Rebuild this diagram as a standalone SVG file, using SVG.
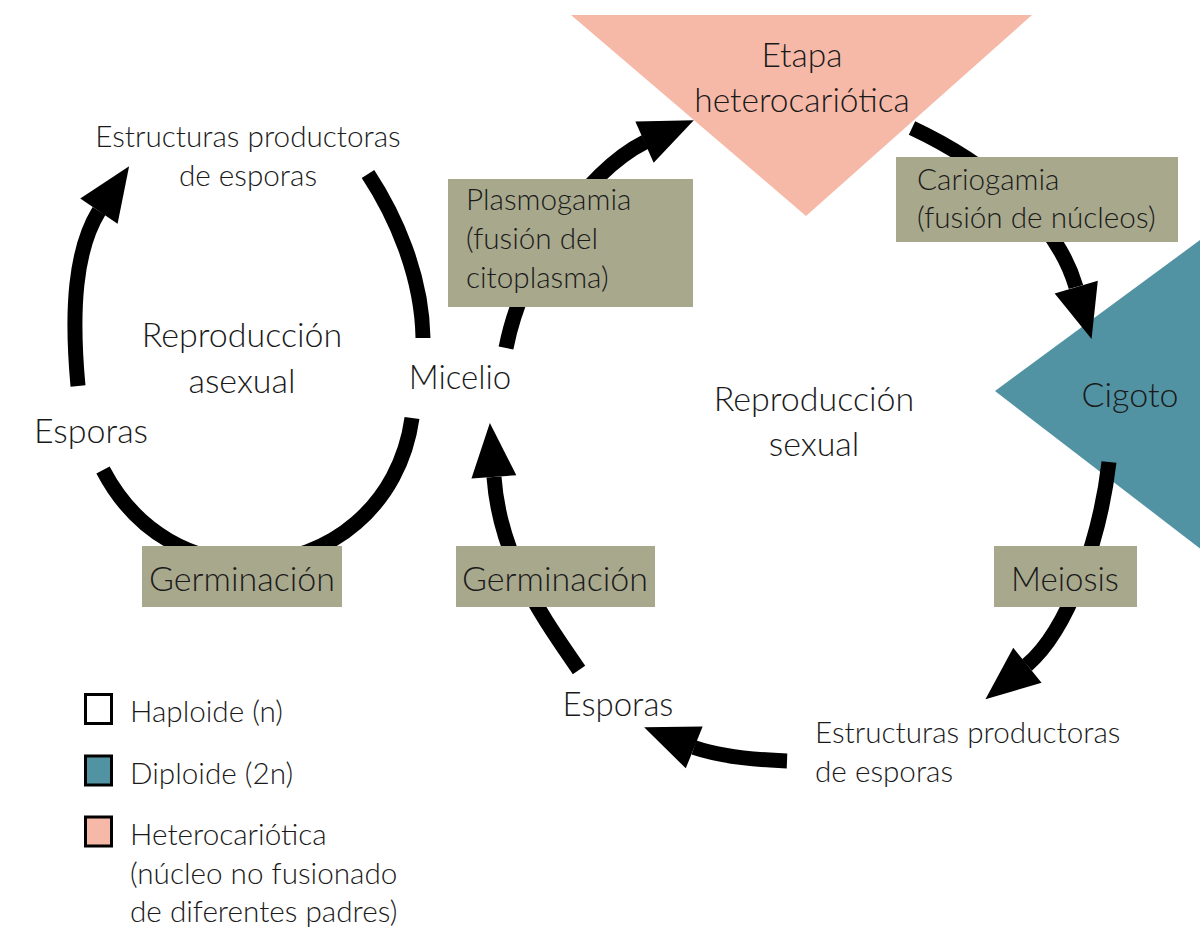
<svg xmlns="http://www.w3.org/2000/svg" xmlns:xlink="http://www.w3.org/1999/xlink" width="1200" height="931" viewBox="0 0 1200 931">
<defs>
<style>
.t{font-family:Lato,"Open Sans","Liberation Sans",sans-serif;font-weight:300;fill:#1a1a1a}
.s28{font-size:29.7px}
.s32{font-size:34px}
.s33{font-size:33px}
.m{text-anchor:middle}
.box{fill:#A8A88D}
.arc{fill:none;stroke:#000;stroke-width:15;stroke-linecap:butt}
.lg{stroke:#000;stroke-width:3}
</style>
<path id="ah" d="M2,0 L-52,-22.5 L-52,22.5 Z" fill="#000"/>
</defs>
<rect width="1200" height="931" fill="#fff"/>

<g id="etapa-heterocariotica">
<polygon points="571,15 1032,15 806,216" fill="#F6B9A8"/>
</g>
<g id="cigoto">
<polygon points="995,391 1215,229 1215,560" fill="#5293A3"/>
</g>

<g id="connectors">
<path class="arc" d="M78,386 C71,310 75,250 99,211"/>
<use xlink:href="#ah" href="#ah" transform="translate(128,168) rotate(-56)"/>
<path class="arc" d="M368,174 C395,215 422,275 423,338"/>
<path class="arc" d="M412,418 C400,505 330,562 250,562 C195,562 137,535 103,470"/>
<path class="arc" d="M506,348 C522,265 585,172 645,142"/>
<use xlink:href="#ah" href="#ah" transform="translate(692,121) rotate(-24)"/>
<path class="arc" d="M912,128 C980,160 1055,215 1076,287"/>
<use xlink:href="#ah" href="#ah" transform="translate(1091,337) rotate(73.5)"/>
<path class="arc" d="M1109,462 C1100,540 1068,630 1027,665"/>
<use xlink:href="#ah" href="#ah" transform="translate(987,698) rotate(141)"/>
<path class="arc" d="M787,761 C760,760 722,757 694,747.5"/>
<use xlink:href="#ah" href="#ah" transform="translate(646,728) rotate(202)"/>
<path class="arc" d="M579,670 C545,620 500,560 494,477"/>
<use xlink:href="#ah" href="#ah" transform="translate(490,425) rotate(-94.3)"/>
</g>

<g id="etapa-label">
<text class="t m" x="802" y="67" font-size="33.5">Etapa</text>
<text class="t m" x="802" y="112" font-size="33.5">heterocariótica</text>
</g>
<g id="cigoto-label">
<text class="t m s32" x="1130" y="407">Cigoto</text>
</g>

<g id="estructuras-asexual">
<text class="t m s28" x="248" y="147">Estructuras productoras</text>
<text class="t m s28" x="248" y="186">de esporas</text>
</g>
<g id="reproduccion-asexual">
<text class="t m s32" x="242" y="347">Reproducción</text>
<text class="t m s32" x="242" y="393">asexual</text>
</g>
<g id="micelio">
<text class="t m s33" x="460" y="389">Micelio</text>
</g>
<g id="esporas-asexual">
<text class="t m s32" x="91" y="443">Esporas</text>
</g>
<g id="germinacion-asexual">
<rect class="box" x="142" y="546" width="200" height="61"/>
<text class="t m s32" x="242" y="591">Germinación</text>
</g>
<g id="plasmogamia">
<rect class="box" x="448" y="179" width="245" height="128"/>
<text class="t s28" x="466" y="210">Plasmogamia</text>
<text class="t s28" x="466" y="249">(fusión del</text>
<text class="t s28" x="466" y="288">citoplasma)</text>
</g>
<g id="cariogamia">
<rect class="box" x="896" y="157" width="282" height="85"/>
<text class="t s28" x="917" y="190">Cariogamia</text>
<text class="t s28" x="917" y="228">(fusión de núcleos)</text>
</g>
<g id="reproduccion-sexual">
<text class="t m s32" x="814" y="411">Reproducción</text>
<text class="t m s32" x="814" y="456">sexual</text>
</g>
<g id="germinacion-sexual">
<rect class="box" x="456" y="546" width="199" height="61"/>
<text class="t m s32" x="555" y="591">Germinación</text>
</g>
<g id="meiosis">
<rect class="box" x="994" y="546" width="143" height="61"/>
<text class="t m s33" x="1065" y="591">Meiosis</text>
</g>
<g id="esporas-sexual">
<text class="t m s33" x="618" y="716">Esporas</text>
</g>
<g id="estructuras-sexual">
<text class="t s28" x="815" y="743">Estructuras productoras</text>
<text class="t s28" x="815" y="782">de esporas</text>
</g>

<g id="legend">
<rect class="lg" x="85.5" y="694.5" width="26" height="29" fill="#fff"/>
<text class="t s28" x="130" y="722">Haploide (n)</text>
<rect class="lg" x="85.5" y="756" width="26" height="29" fill="#5293A3"/>
<text class="t s28" x="130" y="784">Diploide (2n)</text>
<rect class="lg" x="85.5" y="817" width="26" height="29" fill="#F6B9A8"/>
<text class="t s28" x="130" y="845">Heterocariótica</text>
<text class="t s28" x="130" y="884">(núcleo no fusionado</text>
<text class="t s28" x="130" y="922">de diferentes padres)</text>
</g>
</svg>
